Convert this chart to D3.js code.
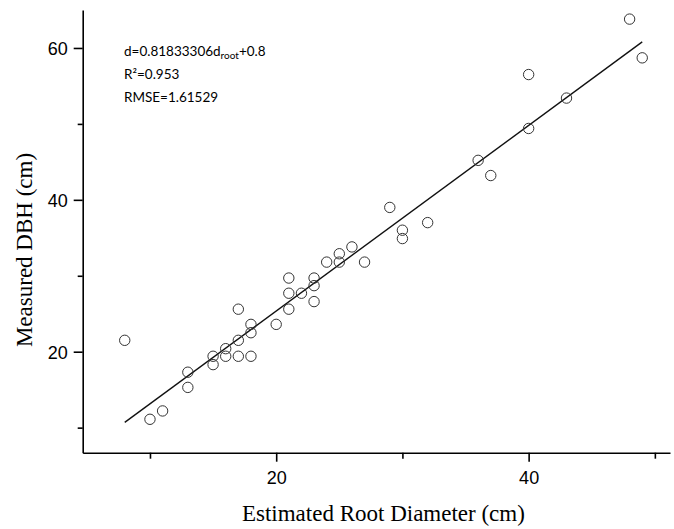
<!DOCTYPE html>
<html>
<head>
<meta charset="utf-8">
<script src="https://cdn.jsdelivr.net/npm/d3@7"></script>
<style>
  body { margin: 0; background: #fff; }
</style>
</head>
<body>
<div id="chart"></div>
<script>
// estimated root diameter (x) and measured DBH (y)
const rootDiam = [8, 10, 11, 13, 13, 15, 15, 16, 16, 17, 17, 17, 18, 18, 18, 20,
                  21, 21, 21, 22, 23, 23, 23, 24, 25, 25, 26, 27, 29, 30, 30, 32,
                  36, 37, 40, 40, 43, 48, 49];
const dbh      = [21.5, 11.1, 12.2, 17.3, 15.3, 19.4, 18.3, 20.4, 19.4, 21.5, 19.4, 25.6,
                  23.6, 22.5, 19.4, 23.6, 29.7, 27.7, 25.6, 27.7, 29.7, 28.7, 26.6, 31.8,
                  32.9, 31.8, 33.8, 31.8, 39.0, 36.0, 34.9, 37.0, 45.2, 43.2, 49.4, 56.5,
                  53.4, 63.8, 58.7];
// fitted line end points
const fitX = [8, 49];
const fitY = [10.7, 60.8];

const xTicks = [10, 20, 30, 40, 50];
const yTicks = [10, 20, 30, 40, 50, 60];
const xLabels = [20, 40];
const yLabels = [20, 40, 60];

const annot = ["R²=0.953", "RMSE=1.61529"];

const W = 674, H = 529;
const margin = {left: 82.7, right: 4, top: 10, bottom: 76.3};

const svg = d3.select('#chart').append('svg')
    .attr('width', W).attr('height', H);

const x = d3.scaleLinear().domain([4.67, 51.2]).range([margin.left, W - margin.right]);
const y = d3.scaleLinear().domain([6.7, 65.0]).range([H - margin.bottom, margin.top]);

// x axis
const xAxis = d3.axisBottom(x).tickValues(xTicks)
    .tickSize(0).tickFormat('');
const gx = svg.append('g').attr('transform', 'translate(0,' + (H - margin.bottom) + ')').call(xAxis);
gx.select('.domain').attr('stroke', '#000').attr('stroke-width', 1.6);
gx.selectAll('.tick line').remove();
gx.selectAll('.tick').append('line')
    .attr('y2', d => xLabels.includes(d) ? 9 : 6)
    .attr('stroke', '#000').attr('stroke-width', 1.6);
gx.selectAll('.tick').filter(d => xLabels.includes(d)).append('text')
    .attr('y', 31).attr('fill', '#000')
    .attr('text-anchor', 'middle')
    .style('font-family', 'Liberation Sans, Arial, sans-serif')
    .style('font-size', '18px')
    .text(d => d);

// y axis
const yAxis = d3.axisLeft(y).tickValues(yTicks).tickSize(0).tickFormat('');
const gy = svg.append('g').attr('transform', 'translate(' + margin.left + ',0)').call(yAxis);
gy.select('.domain').attr('stroke', '#000').attr('stroke-width', 1.6);
gy.selectAll('.tick line').remove();
gy.selectAll('.tick').append('line')
    .attr('x2', d => yLabels.includes(d) ? -9 : -5)
    .attr('stroke', '#000').attr('stroke-width', 1.6);
gy.selectAll('.tick').filter(d => yLabels.includes(d)).append('text')
    .attr('x', -15).attr('dy', '0.35em').attr('fill', '#000')
    .attr('text-anchor', 'end')
    .style('font-family', 'Liberation Sans, Arial, sans-serif')
    .style('font-size', '18px')
    .text(d => d);

// axis titles
svg.append('text')
    .attr('x', x(20) + (x(40) - x(20)) / 2 - 19).attr('y', 521)
    .attr('text-anchor', 'middle')
    .style('font-family', 'Liberation Serif, Times New Roman, serif')
    .style('font-size', '23px')
    .text('Estimated Root Diameter (cm)');
svg.append('text')
    .attr('transform', 'translate(32,' + 250 + ') rotate(-90)')
    .attr('text-anchor', 'middle')
    .style('font-family', 'Liberation Serif, Times New Roman, serif')
    .style('font-size', '23px')
    .text('Measured DBH (cm)');

// regression line
const line = d3.line().x(d => x(d[0])).y(d => y(d[1]));
svg.append('path')
    .datum(d3.zip(fitX, fitY))
    .attr('d', line)
    .attr('fill', 'none').attr('stroke', '#111').attr('stroke-width', 1.4);

// points
svg.selectAll('circle.pt')
    .data(d3.zip(rootDiam, dbh))
    .enter().append('circle')
    .attr('class', 'pt')
    .attr('cx', d => x(d[0]))
    .attr('cy', d => y(d[1]))
    .attr('r', 5.2)
    .attr('fill', 'none')
    .attr('stroke', '#333')
    .attr('stroke-width', 1);

// annotation
const ann = svg.append('g')
    .style('font-family', 'Lato, Carlito, sans-serif')
    .style('font-size', '13.5px')
    .attr('fill', '#000');
const t1 = ann.append('text').attr('x', 124).attr('y', 56);
t1.append('tspan').text('d=0.81833306d');
t1.append('tspan').attr('dy', 3).style('font-size', '10px').text('root');
t1.append('tspan').attr('dy', -3).text('+0.8');
ann.selectAll('text.l')
    .data(annot)
    .enter().append('text')
    .attr('class', 'l')
    .attr('x', 124)
    .attr('y', (d, i) => 79 + i * 23)
    .text(d => d);
</script>
</body>
</html>
